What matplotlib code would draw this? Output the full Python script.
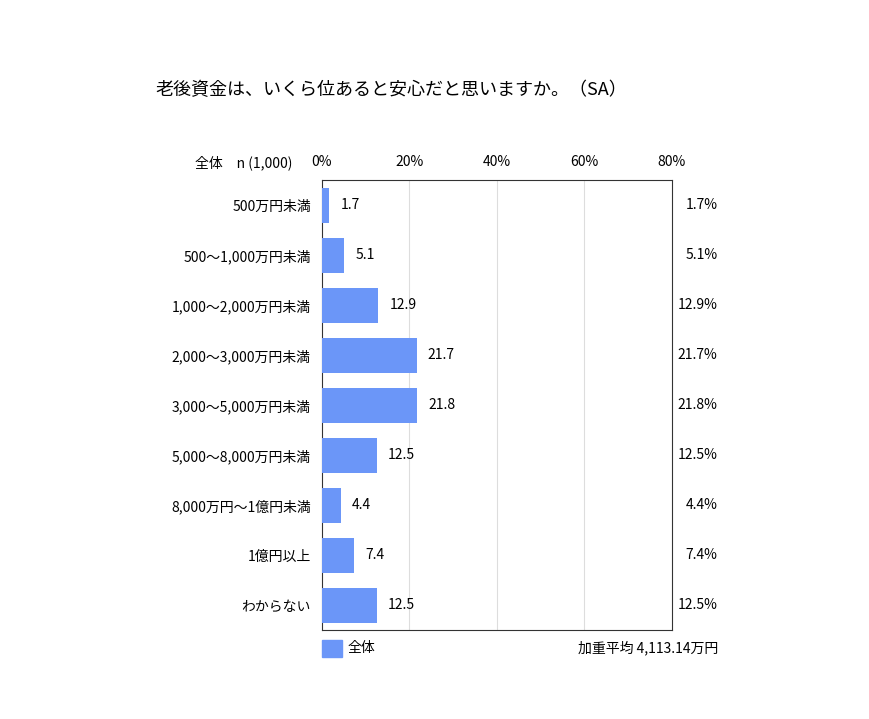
import matplotlib
matplotlib.use("Agg")
import matplotlib.pyplot as plt
from matplotlib.patches import Rectangle

plt.rcParams['font.family'] = ['Noto Sans CJK JP', 'DejaVu Sans']

categories = ["500万円未満", "500～1,000万円未満", "1,000～2,000万円未満", "2,000～3,000万円未満",
              "3,000～5,000万円未満", "5,000～8,000万円未満", "8,000万円～1億円未満", "1億円以上", "わからない"]
values = [1.7, 5.1, 12.9, 21.7, 21.8, 12.5, 4.4, 7.4, 12.5]
xticks = [0, 20, 40, 60, 80]
color = "#6b96f8"

W, H = 870, 719
fig = plt.figure(figsize=(W/100, H/100), dpi=100)
l, r, t, b = 322, 672, 180, 630
ax = fig.add_axes([l/W, 1-b/H, (r-l)/W, (b-t)/H])
n = len(values)
y = list(range(n))
ax.barh(y, values, height=0.7, color=color, zorder=3)
ax.set_xlim(0, 80)
ax.set_ylim(n-0.5, -0.5)
ax.set_xticks(xticks)
ax.set_xticklabels([f"{v}%" for v in xticks], fontsize=10)
ax.xaxis.tick_top()
ax.tick_params(axis='x', length=0, pad=8)
ax.set_yticks(y)
ax.set_yticklabels(categories, fontsize=10)
ax.tick_params(axis='y', length=0, pad=8)
for xv in [20, 40, 60]:
    ax.axvline(xv, color="#dddddd", lw=0.8, zorder=1)
for s in ax.spines.values():
    s.set_color("#333333"); s.set_linewidth(0.8)
for yi, v in zip(y, values):
    ax.text(v + 2.5, yi, f"{v}", va='center', ha='left', fontsize=10)
    ax.text(1.13, yi, f"{v}%", va='center', ha='right', fontsize=10,
            transform=ax.get_yaxis_transform())

fig.text(155/W, 1-90/H, "老後資金は、いくら位あると安心だと思いますか。（SA）", fontsize=13, va='center')
fig.text(292/W, 1-163/H, "全体　n (1,000)", fontsize=10, va='center', ha='right')
fig.patches.append(Rectangle((322/W, 1-657/H), 20/W, 17/H, transform=fig.transFigure,
                             color=color, figure=fig))
fig.text(348/W, 1-648/H, "全体", fontsize=10, va='center')
fig.text(718/W, 1-648/H, "加重平均 4,113.14万円", fontsize=10, va='center', ha='right')
fig.savefig("out.png", dpi=100)
